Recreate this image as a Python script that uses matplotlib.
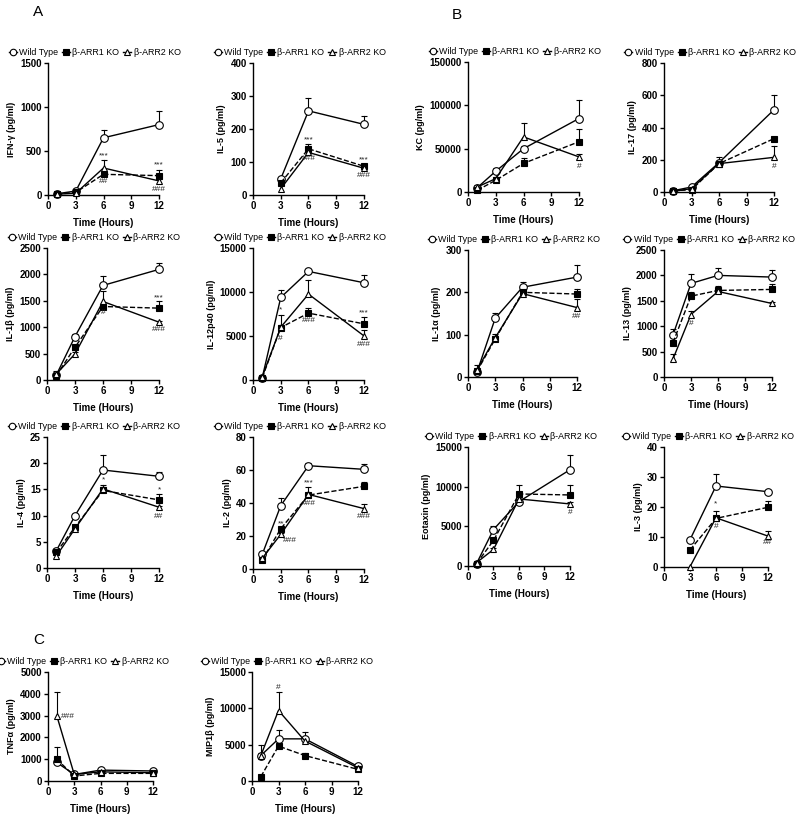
import numpy as np
import matplotlib
matplotlib.use("Agg")
import matplotlib.pyplot as plt
from matplotlib.lines import Line2D

plt.rcParams['font.family'] = ['Liberation Sans', 'DejaVu Sans']

# ---------------- data ----------------
T4 = [1, 3, 6, 12]
T3 = [3, 6, 12]
SERIES = ["Wild Type", "β-ARR1 KO", "β-ARR2 KO"]

IFNG_WT = [15, 45, 650, 800];      IFNG_WT_ERR = [5, 10, 90, 155]
IFNG_KO1 = [10, 30, 235, 220];     IFNG_KO1_ERR = [3, 8, 20, 60]
IFNG_KO2 = [10, 20, 307, 160];     IFNG_KO2_ERR = [3, 5, 95, 20]

IL5_WT = [49, 255, 214];           IL5_WT_ERR = [0, 38, 25]
IL5_KO1 = [37, 140, 87];           IL5_KO1_ERR = [0, 15, 5]
IL5_KO2 = [19, 129, 81];           IL5_KO2_ERR = [0, 5, 5]

KC_WT = [5000, 24000, 50000, 84800];   KC_WT_ERR = [1000, 3800, 3000, 21000]
KC_KO1 = [2000, 13500, 33000, 58000];  KC_KO1_ERR = [500, 1500, 6700, 14500]
KC_KO2 = [5800, 15400, 63600, 40500];  KC_KO2_ERR = [2700, 1500, 16400, 3800]

IL17_WT = [8, 31, 182, 510];       IL17_WT_ERR = [3, 5, 35, 90]
IL17_KO1 = [8, 14, 176, 331];      IL17_KO1_ERR = [2, 3, 10, 0]
IL17_KO2 = [4, 21, 176, 215];      IL17_KO2_ERR = [2, 3, 10, 70]

IL1B_WT = [95, 823, 1791, 2095];   IL1B_WT_ERR = [75, 50, 171, 120]
IL1B_KO1 = [82, 620, 1392, 1361];  IL1B_KO1_ERR = [20, 40, 50, 139]
IL1B_KO2 = [114, 494, 1487, 1095]; IL1B_KO2_ERR = [20, 30, 190, 20]

IL12_WT = [266, 9380, 12340, 11050];  IL12_WT_ERR = [50, 870, 150, 910]
IL12_KO1 = [266, 5960, 7600, 6380];   IL12_KO1_ERR = [50, 1370, 560, 760]
IL12_KO2 = [380, 6000, 9760, 5010];   IL12_KO2_ERR = [50, 300, 1560, 690]

IL1A_WT = [12, 139, 212, 236];     IL1A_WT_ERR = [3, 13, 13, 28]
IL1A_KO1 = [14, 90, 200, 196];     IL1A_KO1_ERR = [3, 11, 5, 13]
IL1A_KO2 = [17, 93, 197, 164];     IL1A_KO2_ERR = [11, 5, 5, 20]

IL13_WT = [829, 1842, 2000, 1967];   IL13_WT_ERR = [112, 178, 138, 138]
IL13_KO1 = [678, 1592, 1704, 1724];  IL13_KO1_ERR = [30, 86, 86, 105]
IL13_KO2 = [355, 1230, 1684, 1447];  IL13_KO2_ERR = [92, 66, 30, 20]

IL4_WT = [3.3, 10.0, 18.7, 17.5];  IL4_WT_ERR = [0.3, 0.3, 2.9, 0.9]
IL4_KO1 = [3.0, 7.8, 14.8, 13.0];  IL4_KO1_ERR = [0.3, 0.3, 1.1, 1.1]
IL4_KO2 = [2.3, 7.5, 15.1, 11.6];  IL4_KO2_ERR = [0.3, 0.3, 0.3, 0.3]

IL2_WT = [8.9, 38.4, 62.6, 60.4];  IL2_WT_ERR = [1, 4.4, 1.6, 3.2]
IL2_KO1 = [5.5, 24.4, 44.8, 50.1]; IL2_KO1_ERR = [1, 1, 4.7, 2.8]
IL2_KO2 = [6.5, 21.0, 45.2, 36.6]; IL2_KO2_ERR = [1, 1, 1, 2.6]

EOT_WT = [293, 4600, 8117, 12134];  EOT_WT_ERR = [100, 500, 300, 1883]
EOT_KO1 = [293, 3220, 9080, 8954];  EOT_KO1_ERR = [100, 300, 1129, 1255]
EOT_KO2 = [418, 2092, 8450, 7824];  EOT_KO2_ERR = [100, 200, 200, 200]

IL3_WT = [9.1, 27.0, 25.1];        IL3_WT_ERR = [0.5, 4.1, 0]
IL3_KO1 = [5.7, 16.2, 19.9];       IL3_KO1_ERR = [0, 2.6, 2.2]
IL3_KO2 = [0.1, 16.4, 10.3];       IL3_KO2_ERR = [0, 0, 1.6]

TNF_WT = [850, 300, 500, 460];     TNF_WT_ERR = [100, 30, 30, 30]
TNF_KO1 = [1000, 230, 350, 350];   TNF_KO1_ERR = [580, 30, 30, 30]
TNF_KO2 = [3000, 300, 420, 380];   TNF_KO2_ERR = [1080, 30, 30, 30]

MIP_WT = [3500, 5800, 5800, 2000];  MIP_WT_ERR = [1500, 1200, 1000, 300]
MIP_KO1 = [600, 4800, 3500, 1600];  MIP_KO1_ERR = [100, 300, 400, 200]
MIP_KO2 = [3500, 9700, 5500, 1800]; MIP_KO2_ERR = [300, 2600, 300, 200]

# ---------------- figure ----------------
W, H = 800, 831
fig = plt.figure(figsize=(W / 100, H / 100), dpi=100)


def add_ax(x0, x1, yt, yb):
    return fig.add_axes([x0 / W, 1 - yb / H, (x1 - x0) / W, (yb - yt) / H])


STYLES = [
    dict(ls='-', marker='o', mfc='white', ms=5.5),
    dict(ls='--', marker='s', mfc='black', ms=4.3),
    dict(ls='-', marker='^', mfc='white', ms=5.0),
]


def draw(ax, t, series, errs, ymax, ystep, ylabel, annots, leg_x=0.42):
    for y, e, st in zip(series, errs, STYLES):
        t_arr = np.array(t, float)
        y_arr = np.array(y, float)
        e_arr = np.array(e, float)
        for ti, yi, ei in zip(t_arr, y_arr, e_arr):
            if ei > 0:
                ax.plot([ti, ti], [yi, yi + ei], color='black', lw=0.8,
                        clip_on=False, zorder=2)
                ax.plot([ti], [yi + ei], marker='_', ms=5, mew=0.8,
                        color='black', clip_on=False, zorder=2)
        ax.plot(t_arr, y_arr, color='black', lw=1.0, mec='black', mew=0.8,
                clip_on=False, zorder=3, **st)
    for (x, y, s, ha) in annots:
        ax.text(x, y, s, fontsize=6, ha=ha, va='center', color='#222222',
                zorder=4)
    ax.set_xlim(0, 12)
    ax.set_ylim(0, ymax)
    ax.set_xticks([0, 3, 6, 9, 12])
    ax.set_yticks(np.arange(0, ymax + ystep / 2, ystep))
    ax.yaxis.set_major_formatter(matplotlib.ticker.FuncFormatter(lambda v, p: f"{v:g}"))
    for s in ['top', 'right']:
        ax.spines[s].set_visible(False)
    for s in ['left', 'bottom']:
        ax.spines[s].set_linewidth(1.0)
    ax.tick_params(axis='both', direction='out', length=3, width=1,
                   labelsize=7, pad=1.5)
    for lab in ax.get_xticklabels() + ax.get_yticklabels():
        lab.set_fontweight('bold')
    ax.set_xlabel('Time (Hours)', fontsize=7, fontweight='bold', labelpad=5)
    ax.set_ylabel(ylabel, fontsize=6.5, fontweight='bold', labelpad=3)
    handles = [Line2D([0], [0], color='black', lw=1.0, mec='black', mew=0.8,
                      marker=st['marker'], mfc=st['mfc'], ms=st['ms'] * 0.85)
               for st in STYLES]
    ax.legend(handles, SERIES, loc='lower center', bbox_to_anchor=(leg_x, 1.0),
              ncol=3, frameon=False, fontsize=6.4, handlelength=0.9,
              handletextpad=0.25, columnspacing=0.45, borderaxespad=0.45,
              borderpad=0.2)


# Row 1
ax = add_ax(48, 159, 63, 195)
draw(ax, T4, [IFNG_WT, IFNG_KO1, IFNG_KO2], [IFNG_WT_ERR, IFNG_KO1_ERR, IFNG_KO2_ERR],
     1500, 500, 'IFN-γ (pg/ml)',
     [(6, 440, '***', 'center'), (6, 150, '##', 'center'),
      (12, 345, '***', 'center'), (12, 62, '###', 'center')])

ax = add_ax(253, 364, 63, 195)
draw(ax, T3, [IL5_WT, IL5_KO1, IL5_KO2], [IL5_WT_ERR, IL5_KO1_ERR, IL5_KO2_ERR],
     400, 100, 'IL-5 (pg/ml)',
     [(6, 167, '***', 'center'), (6, 112, '###', 'center'),
      (12, 106, '***', 'center'), (12, 60, '###', 'center')])

ax = add_ax(468, 579, 62, 192)
draw(ax, T4, [KC_WT, KC_KO1, KC_KO2], [KC_WT_ERR, KC_KO1_ERR, KC_KO2_ERR],
     150000, 50000, 'KC (pg/ml)',
     [(12, 29000, '#', 'center')])

ax = add_ax(664, 774, 63, 192)
draw(ax, T4, [IL17_WT, IL17_KO1, IL17_KO2], [IL17_WT_ERR, IL17_KO1_ERR, IL17_KO2_ERR],
     800, 200, 'IL-17 (pg/ml)',
     [(12, 160, '#', 'center')])

# Row 2
ax = add_ax(47, 159, 248, 380)
draw(ax, T4, [IL1B_WT, IL1B_KO1, IL1B_KO2], [IL1B_WT_ERR, IL1B_KO1_ERR, IL1B_KO2_ERR],
     2500, 500, 'IL-1β (pg/ml)',
     [(6, 1270, '#', 'center'), (12, 1560, '***', 'center'),
      (12, 950, '###', 'center')])

ax = add_ax(253, 364, 248, 380)
draw(ax, T4, [IL12_WT, IL12_KO1, IL12_KO2], [IL12_WT_ERR, IL12_KO1_ERR, IL12_KO2_ERR],
     15000, 5000, 'IL-12p40 (pg/ml)',
     [(3, 8000, '*', 'center'), (3, 4750, '#', 'center'),
      (6, 6760, '###', 'center'), (12, 7600, '***', 'center'),
      (12, 3990, '###', 'center')])

ax = add_ax(468, 577, 250, 377)
draw(ax, T4, [IL1A_WT, IL1A_KO1, IL1A_KO2], [IL1A_WT_ERR, IL1A_KO1_ERR, IL1A_KO2_ERR],
     300, 100, 'IL-1α (pg/ml)',
     [(12, 144, '##', 'center')])

ax = add_ax(664, 772, 250, 377)
draw(ax, T4, [IL13_WT, IL13_KO1, IL13_KO2], [IL13_WT_ERR, IL13_KO1_ERR, IL13_KO2_ERR],
     2500, 500, 'IL-13 (pg/ml)',
     [(3, 1050, '#', 'center')])

# Row 3
ax = add_ax(47, 159, 437, 568)
draw(ax, T4, [IL4_WT, IL4_KO1, IL4_KO2], [IL4_WT_ERR, IL4_KO1_ERR, IL4_KO2_ERR],
     25, 5, 'IL-4 (pg/ml)',
     [(6, 16.8, '*', 'center'), (12, 14.9, '*', 'center'),
      (12, 9.8, '##', 'center')])

ax = add_ax(253, 364, 437, 569)
draw(ax, T4, [IL2_WT, IL2_KO1, IL2_KO2], [IL2_WT_ERR, IL2_KO1_ERR, IL2_KO2_ERR],
     80, 20, 'IL-2 (pg/ml)',
     [(3, 27.5, '**', 'center'), (3.2, 17, '###', 'left'),
      (6, 52, '***', 'center'), (6, 39.5, '###', 'center'),
      (12, 31.7, '###', 'center')])

ax = add_ax(468, 570, 447, 566)
draw(ax, T4, [EOT_WT, EOT_KO1, EOT_KO2], [EOT_WT_ERR, EOT_KO1_ERR, EOT_KO2_ERR],
     15000, 5000, 'Eotaxin (pg/ml)',
     [(12, 6700, '#', 'center')])

ax = add_ax(664, 768, 447, 567)
draw(ax, T3, [IL3_WT, IL3_KO1, IL3_KO2], [IL3_WT_ERR, IL3_KO1_ERR, IL3_KO2_ERR],
     40, 10, 'IL-3 (pg/ml)',
     [(6, 21, '*', 'center'), (6, 13.6, '#', 'center'),
      (12, 8.0, '##', 'center')])

# Row 4 (C)
ax = add_ax(48, 153, 672, 781)
draw(ax, T4, [TNF_WT, TNF_KO1, TNF_KO2], [TNF_WT_ERR, TNF_KO1_ERR, TNF_KO2_ERR],
     5000, 1000, 'TNFα (pg/ml)',
     [(1.5, 2950, '###', 'left')], leg_x=0.33)

ax = add_ax(252, 358, 672, 781)
draw(ax, T4, [MIP_WT, MIP_KO1, MIP_KO2], [MIP_WT_ERR, MIP_KO1_ERR, MIP_KO2_ERR],
     15000, 5000, 'MIP1β (pg/ml)',
     [(3, 12900, '#', 'center')], leg_x=0.33)

# Panel letters
fig.text(38 / W, 1 - 12 / H, 'A', fontsize=11, ha='center', va='center')
fig.text(457 / W, 1 - 15 / H, 'B', fontsize=11, ha='center', va='center')
fig.text(39 / W, 1 - 640 / H, 'C', fontsize=11, ha='center', va='center')

fig.savefig('out.png', dpi=100)
